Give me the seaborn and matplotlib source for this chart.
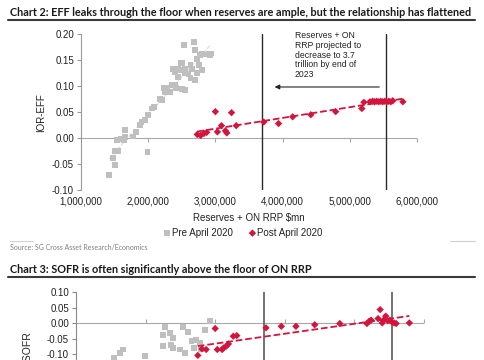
import matplotlib.pyplot as plt
import numpy as np
import seaborn as sns
from matplotlib.lines import Line2D
from matplotlib.ticker import FuncFormatter, MultipleLocator

# Chart 2: Reserves + ON RRP ($tn, scaled to $mn below) vs IOR-EFF
pre2_x = [1.42, 1.48, 1.50, 1.51, 1.55, 1.53, 1.60, 1.65, 1.64, 1.66, 1.78, 1.82,
          1.88, 1.90, 1.95, 1.99, 2.00, 2.05, 2.08, 2.18, 2.20, 2.23, 2.25, 2.28,
          2.32, 2.35, 2.40, 2.42, 2.50, 2.55, 2.37, 2.40, 2.45, 2.47, 2.48, 2.50,
          2.45, 2.53, 2.55, 2.55, 2.60, 2.63, 2.63, 2.65, 2.68, 2.70, 2.70, 2.72,
          2.73, 2.75, 2.77, 2.80, 2.80, 2.85, 2.90, 2.94, 2.92]
pre2_y = [-0.071, -0.039, -0.052, -0.025, -0.024, -0.004, -0.001, 0.015, -0.004, 0.002, 0.003, 0.012,
          0.025, 0.031, 0.035, -0.026, 0.044, 0.057, 0.060, 0.075, 0.073, 0.097, 0.089, 0.096,
          0.088, 0.102, 0.102, 0.096, 0.094, 0.093, 0.133, 0.127, 0.133, 0.131, 0.144, 0.144,
          0.117, 0.179, 0.125, 0.133, 0.124, 0.115, 0.141, 0.134, 0.185, 0.169, 0.112, 0.125,
          0.153, 0.140, 0.160, 0.131, 0.163, 0.161, 0.163, 0.163, 0.160]
post2_x = [2.73, 2.78, 2.83, 2.87, 3.00, 3.03, 3.09, 3.15, 3.17, 3.24, 3.31, 3.72,
           3.94, 4.15, 4.42, 4.79, 5.18, 5.21, 5.30, 5.34, 5.37, 5.40, 5.43, 5.46,
           5.49, 5.52, 5.55, 5.58, 5.61, 5.64, 5.79]
post2_y = [0.007, 0.005, 0.009, 0.011, 0.051, 0.012, 0.024, 0.014, 0.010, 0.049, 0.024, 0.031,
           0.028, 0.041, 0.045, 0.051, 0.057, 0.069, 0.070, 0.071, 0.070, 0.071, 0.070, 0.071,
           0.070, 0.071, 0.070, 0.071, 0.070, 0.072, 0.070]

# Chart 3: Reserves + ON RRP vs ON RRP-SOFR
pre3_x = [2.92, 2.28, 2.54, 2.35, 2.40, 2.25, 2.25, 2.37, 2.40, 2.49, 2.61, 2.66,
          2.73, 2.78, 2.85, 2.80, 2.69, 2.56, 1.68, 1.63, 1.99, 1.54]
pre3_y = [0.008, -0.013, -0.013, -0.031, -0.047, -0.039, -0.074, -0.069, -0.080, -0.085, -0.028, -0.058,
          -0.053, -0.064, -0.021, -0.085, -0.080, -0.096, -0.085, -0.096, -0.106, -0.112]
post3_x = [2.75, 2.81, 2.87, 3.00, 3.03, 3.10, 3.12, 3.16, 3.19, 3.26, 3.31, 3.73,
           3.95, 4.16, 4.43, 4.79, 5.18, 5.21, 5.24, 5.34, 5.37, 5.40, 5.42, 5.45,
           5.48, 5.51, 5.54, 5.57, 5.60, 5.79]
post3_y = [-0.104, -0.083, -0.085, -0.017, -0.085, -0.085, -0.080, -0.074, -0.067, -0.042, -0.040, -0.015,
           -0.010, -0.010, -0.005, -0.001, -0.001, 0.006, 0.010, 0.015, 0.044, 0.001, 0.010, 0.023,
           0.008, 0.010, 0.004, 0.001, -0.001, 0.001]

proj_line = 3.7e6
now_line = 5.54e6

GRAY = "#bfbfbf"
RED = "#d3143c"
TXT = "#222222"
W, H = 485, 360

sns.set_theme(style="white")
plt.rcParams["font.family"] = ["Liberation Sans", "DejaVu Sans"]
plt.rcParams["axes.unicode_minus"] = False

fig = plt.figure(figsize=(W / 100, H / 100), dpi=100)


def mn(vals):
    return np.array(vals) * 1e6


def style_axes(ax, ylo, yhi, spine_col, show_xlabels=True):
    ax.set_xlim(1e6, 6e6)
    ax.set_ylim(ylo, yhi)
    for s in ("top", "right", "bottom"):
        ax.spines[s].set_visible(False)
    ax.spines["left"].set_color(spine_col)
    ax.spines["left"].set_linewidth(0.8)
    ax.axhline(0, color="#a8a8a8", lw=0.8, zorder=1)
    ax.xaxis.set_major_locator(MultipleLocator(1e6))
    ax.yaxis.set_major_locator(MultipleLocator(0.05))
    ax.xaxis.set_major_formatter(FuncFormatter(lambda v, _: f"{v:,.0f}"))
    ax.yaxis.set_major_formatter(FuncFormatter(lambda v, _: f"{v:.2f}"))
    ax.tick_params(axis="y", left=True, length=3, width=0.8, color=spine_col,
                   labelsize=7, labelcolor=TXT, pad=2)
    ax.tick_params(axis="x", bottom=True, length=0, labelsize=7, labelcolor=TXT, pad=5,
                   labelbottom=show_xlabels)
    sec = ax.secondary_xaxis((0 - ylo) / (yhi - ylo))
    sec.set_xticks(np.arange(2e6, 6.1e6, 1e6))
    sec.tick_params(axis="x", length=3, width=0.8, color="#a8a8a8",
                    labelbottom=False, labeltop=False)
    for s in sec.spines.values():
        s.set_visible(False)
    ax.grid(False)


# ---------------- Chart 2 ----------------
ax1 = fig.add_axes([81 / W, 1 - 190 / H, 336 / W, (190 - 34.3) / H])
style_axes(ax1, -0.10, 0.20, "#9a9a9a")
ax1.axvline(proj_line, color="#2b2b2b", lw=1.0, zorder=1)
ax1.axvline(now_line, color="#2b2b2b", lw=1.0, zorder=1)

sns.regplot(x=mn(pre2_x), y=pre2_y, scatter=False, ci=None, color="#dadada",
            line_kws={"ls": "--", "lw": 0.8}, ax=ax1)
sns.scatterplot(x=mn(pre2_x), y=pre2_y, marker="s", color=GRAY, s=18,
                edgecolor="none", label="Pre April 2020", ax=ax1, zorder=3)
sns.scatterplot(x=mn(post2_x), y=post2_y, marker="D", color=RED, s=14,
                edgecolor="none", label="Post April 2020", ax=ax1, zorder=3)
sns.regplot(x=mn(post2_x), y=post2_y, scatter=False, ci=None, color=RED,
            line_kws={"ls": "--", "lw": 1.3, "zorder": 4}, ax=ax1)

ax1.set_xlabel("Reserves + ON RRP $mn", fontsize=7, color=TXT, labelpad=4)
ax1.set_ylabel("IOR-EFF", fontsize=7, color=TXT, labelpad=4)

ax1.text(4.18e6, 0.206, "Reserves + ON\nRRP projected to\ndecrease to 3.7\ntrillion by end of\n2023",
         fontsize=6.2, va="top", ha="left", linespacing=1.1, color=TXT)
ax1.annotate("", xy=(3.84e6, 0.0985), xytext=(5.48e6, 0.0985),
             arrowprops=dict(arrowstyle="-|>", color=TXT, lw=0.8, mutation_scale=7))

handles, labels = ax1.get_legend_handles_labels()
leg = ax1.get_legend()
if leg is not None:
    leg.remove()
fig.legend(handles, labels, loc="center", bbox_to_anchor=(243 / W, 1 - 232.7 / H),
           ncol=2, frameon=False, fontsize=7, handletextpad=0.1, columnspacing=1.6,
           handlelength=0.8, borderpad=0, labelcolor=TXT)

# ---------------- Chart 3 (cut off at the bottom edge, as in the source) ----------------
ax2 = fig.add_axes([76 / W, 1 - 416 / H, 348 / W, (416 - 292.3) / H])
style_axes(ax2, -0.30, 0.10, "#8a8a8a", show_xlabels=False)
ax2.axvline(proj_line, color="#5a5a5a", lw=1.2, zorder=1)
ax2.axvline(now_line, color="#5a5a5a", lw=1.2, zorder=1)

sns.scatterplot(x=mn(pre3_x), y=pre3_y, marker="s", color=GRAY, s=18,
                edgecolor="none", ax=ax2, zorder=3)
sns.scatterplot(x=mn(post3_x), y=post3_y, marker="D", color=RED, s=14,
                edgecolor="none", ax=ax2, zorder=3)
sns.regplot(x=mn(post3_x), y=post3_y, scatter=False, ci=None, color=RED,
            line_kws={"ls": "--", "lw": 1.3, "zorder": 4}, ax=ax2)
ax2.set_xlabel("")
ax2.set_ylabel("ON RRP-SOFR", fontsize=7.5, color=TXT)
ax2.yaxis.set_label_coords(-0.124, 0.38)

# ---------------- titles, rules, source ----------------
title_kw = dict(fontsize=7.85, fontweight="bold", family=["Lato", "DejaVu Sans"],
                va="center", ha="left", color="#1a1a1a")
fig.text(10 / W, 1 - 12.5 / H,
         "Chart 2: EFF leaks through the floor when reserves are ample, but the relationship has flattened",
         **title_kw)
fig.text(10 / W, 1 - 269.5 / H,
         "Chart 3: SOFR is often significantly above the floor of ON RRP", **title_kw)

for yy in (20, 276.5):
    fig.add_artist(Line2D([8 / W, 475 / W], [1 - yy / H] * 2, color="#3a3a3a", lw=1.5))
for x0, x1 in ((10, 33), (450, 475)):
    fig.add_artist(Line2D([x0 / W, x1 / W], [1 - 241 / H] * 2, color="#cfcfcf", lw=0.8))

fig.text(10 / W, 1 - 247 / H, "Source: SG Cross Asset Research/Economics",
         fontsize=5, color="#808080", family=["Lato", "DejaVu Sans"], va="center")

fig.savefig("out.png", dpi=100)
plt.close(fig)
